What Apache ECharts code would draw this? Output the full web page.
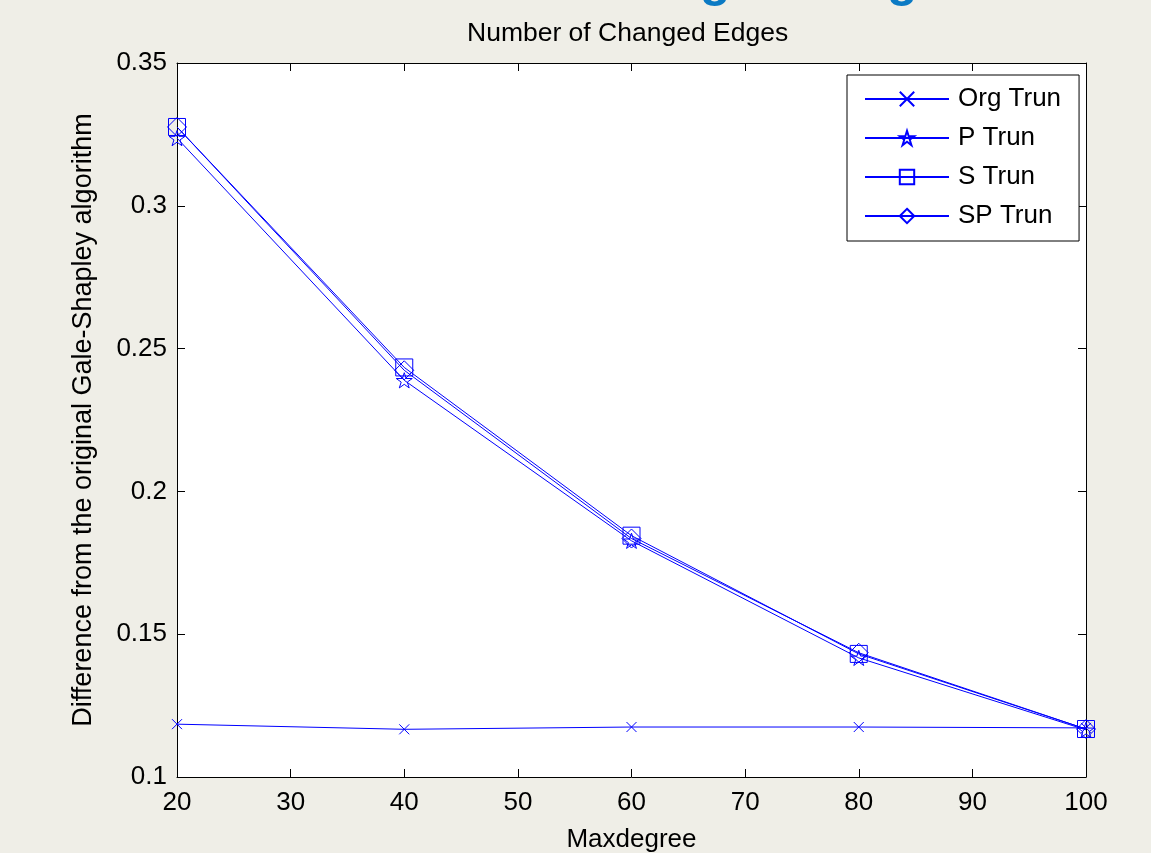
<!DOCTYPE html>
<html>
<head>
<meta charset="utf-8">
<script src="https://cdn.jsdelivr.net/npm/echarts@6/dist/echarts.min.js"></script>
<style>
html,body{margin:0;padding:0;background:#efeee7;}
#chart{width:1151px;height:853px;}
</style>
</head>
<body>
<div id="chart"></div>
<script>
const xValues = [20, 40, 60, 80, 100];
const orgTrun = [0.1185, 0.1167, 0.1175, 0.1175, 0.1172];
const pTrun   = [0.3237, 0.2389, 0.1827, 0.1417, 0.1165];
const sTrun   = [0.3276, 0.2434, 0.1845, 0.1431, 0.1168];
const spTrun  = [0.3276, 0.2424, 0.1835, 0.1435, 0.1168];
const seriesNames = ['Org Trun', 'P Trun', 'S Trun', 'SP Trun'];

const BLUE = '#0000ff';
const FONT = 'Liberation Sans, Arial, sans-serif';
const symX = 'path://M0,0 L10,10 M10,0 L0,10';
const symStar = 'path://M100,0 L122.45,69.1 L195.1,69.1 L136.3,111.8 L158.8,180.9 L100,138.2 L41.2,180.9 L63.7,111.8 L4.9,69.1 L77.55,69.1 Z';
const symRect = 'path://M0,0 L10,0 L10,10 L0,10 Z';
const symDiamond = 'path://M5,0 L10,5 L5,10 L0,5 Z';

function pairs(arr) { return xValues.map((x, i) => [x, arr[i]]); }

function mkSeries(name, data, symbol, size) {
  return {
    name: name,
    type: 'line',
    data: pairs(data),
    symbol: symbol,
    symbolSize: size,
    symbolKeepAspect: true,
    showAllSymbol: true,
    lineStyle: { color: BLUE, width: 1 },
    itemStyle: { color: 'rgba(0,0,0,0)', borderColor: BLUE, borderWidth: 1 },
    emphasis: { disabled: true },
    silent: true,
    z: 3
  };
}

const chart = echarts.init(document.getElementById('chart'), null, { renderer: 'canvas' });

const axisCommon = {
  axisLine: { show: true, onZero: false, lineStyle: { color: '#000', width: 1 } },
  axisTick: { show: true, inside: true, length: 8, lineStyle: { color: '#000', width: 1 } },
  splitLine: { show: false }
};

chart.setOption({
  backgroundColor: '#efeee7',
  animation: false,
  textStyle: { fontFamily: FONT },
  title: {
    text: 'Number of Changed Edges',
    left: 462,
    top: 15,
    textStyle: { fontSize: 26.5, fontWeight: 'normal', color: '#000', fontFamily: FONT }
  },
  graphic: [
    { type: 'text', left: 700, top: -43, silent: true,
      style: { text: 'g', font: 'bold 50px ' + FONT, fill: '#0b7ac4' } },
    { type: 'text', left: 887, top: -43, silent: true,
      style: { text: 'g', font: 'bold 50px ' + FONT, fill: '#0b7ac4' } }
  ],
  grid: { left: 177, right: 65, top: 63, bottom: 76, show: true, backgroundColor: '#fff', borderWidth: 0,
          containLabel: false, outerBoundsMode: 'none' },
  legend: {
    orient: 'vertical',
    left: 847,
    top: 75,
    padding: [11, 18, 12, 17],
    itemGap: 13,
    itemWidth: 84,
    itemHeight: 18,
    backgroundColor: '#fff',
    borderColor: '#000',
    borderWidth: 1,
    borderRadius: 0,
    data: seriesNames,
    selectedMode: false,
    textStyle: { fontSize: 26, color: '#000', lineHeight: 26, fontFamily: FONT, padding: [0, 0, 0, 4] }
  },
  xAxis: [
    Object.assign({
      type: 'value', position: 'bottom', min: 20, max: 100, interval: 10,
      name: 'Maxdegree', nameLocation: 'middle', nameGap: 50,
      nameTextStyle: { fontSize: 26, color: '#000', fontFamily: FONT },
      axisLabel: { fontSize: 26, color: '#000', margin: 13, fontFamily: FONT }
    }, axisCommon),
    Object.assign({
      type: 'value', position: 'top', min: 20, max: 100, interval: 10,
      axisLabel: { show: false }
    }, axisCommon)
  ],
  yAxis: [
    Object.assign({
      type: 'value', position: 'left', min: 0.1, max: 0.35, interval: 0.05,
      name: 'Difference from the original Gale-Shapley algorithm',
      nameLocation: 'middle', nameGap: 80, nameRotate: 90,
      nameTextStyle: { fontSize: 27, color: '#000', fontFamily: FONT },
      axisLabel: { fontSize: 26, color: '#000', margin: 10, fontFamily: FONT }
    }, axisCommon),
    Object.assign({
      type: 'value', position: 'right', min: 0.1, max: 0.35, interval: 0.05,
      axisLabel: { show: false }
    }, axisCommon)
  ],
  series: [
    mkSeries(seriesNames[0], orgTrun, symX, 10),
    mkSeries(seriesNames[1], pTrun, symStar, 16),
    mkSeries(seriesNames[2], sTrun, symRect, 17),
    mkSeries(seriesNames[3], spTrun, symDiamond, 19)
  ]
});
</script>
</body>
</html>
